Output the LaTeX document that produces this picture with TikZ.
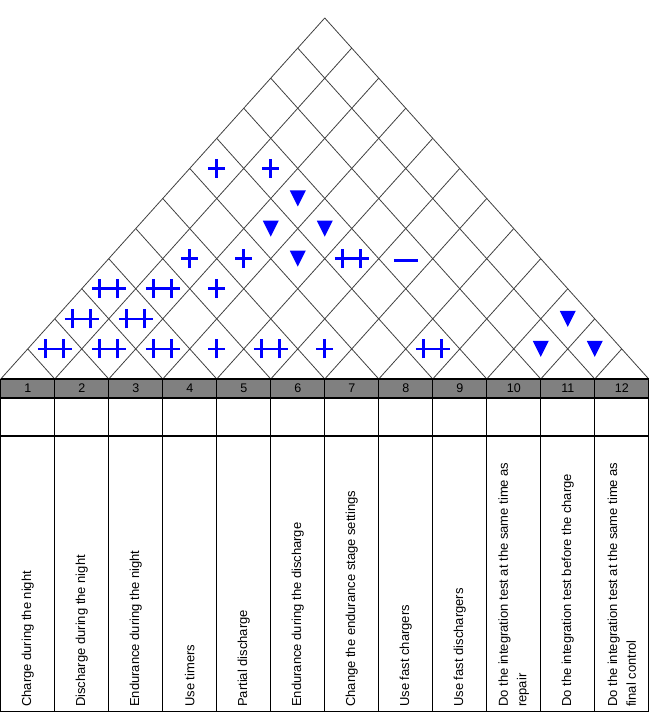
\documentclass[tikz,border=0pt]{standalone}
\usepackage{fontspec}
\setmainfont{Liberation Sans}
\begin{document}
\begin{tikzpicture}[x=1pt,y=1pt,
  roofline/.style={line width=0.8pt, black!75},
  tbl/.style={line width=1.4pt, black},
  sym/.style={blue, line width=2.6pt},
  lbl/.style={rotate=90, anchor=west, align=left, inner sep=0pt, font=\fontsize{13}{18.7}\selectfont},
  num/.style={font=\fontsize{12.5}{14}\selectfont, inner sep=0pt},
  pics/plusone/.style={code={\draw[sym] (-8.5,0) -- (8.5,0) (0,-9.5) -- (0,9.5);}},
  pics/plustwo/.style={code={\draw[sym] (-17,0) -- (17,0) (-9,-9.5) -- (-9,9.5) (9,-9.5) -- (9,9.5);}},
  pics/minusone/.style={code={\draw[blue, line width=3.6pt] (-12,-2) -- (12,-2);}},
  pics/downtri/.style={code={\fill[blue] (-8,8) -- (8,8) -- (0,-8) -- cycle;}}
]
\useasboundingbox (0,0) rectangle (650,714);
\def\X{0.75}
\def\W{54}
\pgfmathsetmacro{\s}{361/324}
\pgfmathsetmacro{\h}{27*\s}
% roof
\foreach \k in {0,...,11}
  \draw[roofline] ({\X+\k*\W},335) -- ({\X+(\k+12)*\W/2},{335+(12-\k)*\W/2*\s});
\foreach \k in {1,...,12}
  \draw[roofline] ({\X+\k*\W},335) -- ({\X+\k*\W/2},{335+\k*\W/2*\s});
% symbols
\foreach \i/\j in {1/2,2/3,3/4,5/6,8/9,1/3,2/4,1/4,2/5,5/9}
  \pic at ({\X+(\i+\j-1)*\W/2},{335+(\j-\i)*\h}) {plustwo};
\foreach \i/\j in {4/5,6/7,3/6,2/6,3/7,1/8,2/9}
  \pic at ({\X+(\i+\j-1)*\W/2},{335+(\j-\i)*\h}) {plusone};
\foreach \i/\j in {10/11,11/12,10/12,4/8,3/8,4/9,3/9}
  \pic at ({\X+(\i+\j-1)*\W/2},{335+(\j-\i)*\h}) {downtri};
\foreach \i/\j in {6/10}
  \pic at ({\X+(\i+\j-1)*\W/2},{335+(\j-\i)*\h}) {minusone};
% table
\fill[black!50] (\X,316) rectangle ({\X+12*\W},335);
\foreach \yy in {335,316,278,2.3}
  \draw[tbl] (\X,\yy) -- ({\X+12*\W},\yy);
\foreach \k in {0,...,12}
  \draw[tbl] ({\X+\k*\W},2.3) -- ({\X+\k*\W},335);
\foreach \k in {1,...,12}
  \node[num] (n\k) at ({\X+(\k-0.5)*\W},325.5) {\k};
% labels
\node[lbl] (t1) at ({\X+0.5*\W},7) {Charge during the night};
\node[lbl] (t2) at ({\X+1.5*\W},7) {Discharge during the night};
\node[lbl] (t3) at ({\X+2.5*\W},7) {Endurance during the night};
\node[lbl] (t4) at ({\X+3.5*\W},7) {Use timers};
\node[lbl] (t5) at ({\X+4.5*\W},7) {Partial discharge};
\node[lbl] (t6) at ({\X+5.5*\W},7) {Endurance during the discharge};
\node[lbl] (t7) at ({\X+6.5*\W},7) {Change the endurance stage settings};
\node[lbl] (t8) at ({\X+7.5*\W},7) {Use fast chargers};
\node[lbl] (t9) at ({\X+8.5*\W},7) {Use fast dischargers};
\node[lbl] (t10) at ({\X+9.5*\W},7) {Do the integration test at the same time as\\repair};
\node[lbl] (t11) at ({\X+10.5*\W},7) {Do the integration test before the charge};
\node[lbl] (t12) at ({\X+11.5*\W},7) {Do the integration test at the same time as\\final control};
\end{tikzpicture}
\end{document}
